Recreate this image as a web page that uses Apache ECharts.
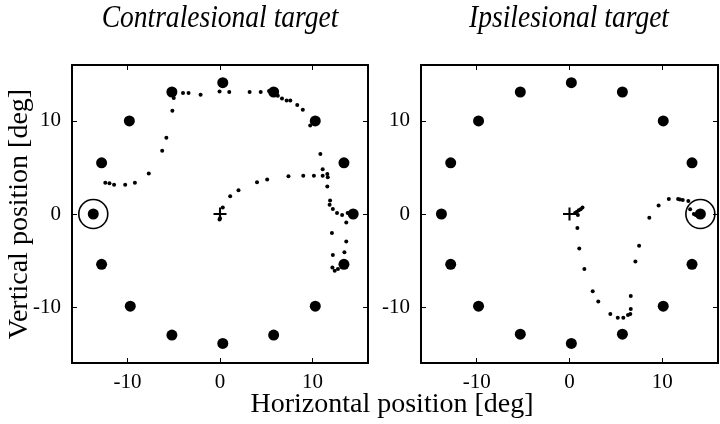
<!DOCTYPE html>
<html>
<head>
<meta charset="utf-8">
<script src="https://cdn.jsdelivr.net/npm/echarts@6/dist/echarts.min.js"></script>
<style>html,body{margin:0;padding:0;background:#fff}#c{width:720px;height:424px}</style>
</head>
<body>
<div id="c"></div>
<script>
var panelTitles = ['Contralesional target', 'Ipsilesional target'];
var xTitle = 'Horizontal position [deg]';
var yTitle = 'Vertical position [deg]';
var tickValues = [-10, 0, 10];
var axisMin = -16, axisMax = 16;

var fixation = [[0, 0]];

var contraTargets = [[-13.7,0],[-12.8,5.5],[-9.8,10],[-5.2,13.1],[0.3,14.1],[5.8,13.1],[10.3,10],[13.4,5.5],[14.4,0],[13.4,-5.4],[10.3,-9.9],[5.8,-13],[0.3,-13.9],[-5.2,-13],[-9.7,-9.9],[-12.8,-5.4]];
var contraCircled = [[-13.7,0]];
var contraTrace = [[-0.05,-0.6],[0,-0.45],[0.3,0.7],[1.1,1.9],[2.0,2.55],[4.0,3.4],[5.1,3.7],[7.4,4.05],[9.0,4.1],[10.15,4.1],[11.1,4.1],[11.65,3.95],[11.6,4.3],[11.1,4.8],[10.85,6.45],[11.6,2.95],[11.9,1.45],[11.85,1.0],[12.2,0.55],[12.65,0.1],[13.2,-0.1],[13.65,-0.9],[13.8,0.1],
[10.25,9.7],[9.75,9.5],[8.95,11.2],[8.35,11.7],[7.6,12.2],[7.2,12.2],[6.7,12.4],[6.25,12.7],[5.8,12.9],[5.3,13.2],[4.4,13.1],[3.2,13.1],[1.0,13.1],[-0.05,13.15],[-2.1,12.8],[-3.4,13.0],[-4.0,13.0],[-4.9,13.0],[-5.0,12.45],[-5.15,11.1],[-5.8,8.2],[-6.25,6.8],[-7.7,4.35],[-9.2,3.35],[-10.25,3.15],[-11.45,3.15],[-11.95,3.3],[-12.4,3.35],
[12.1,-2.05],[13.65,-2.95],[12.2,-4.4],[13.45,-4.1],[12.15,-5.75],[12.4,-6.1],[12.75,-5.9]];

var ipsiTargets = [[-13.8,0],[-12.8,5.5],[-9.8,10],[-5.3,13.1],[0.2,14.1],[5.7,13.1],[10.1,10],[13.2,5.5],[14.1,0],[13.2,-5.4],[10.1,-9.9],[5.7,-12.9],[0.2,-13.9],[-5.3,-12.9],[-9.8,-9.9],[-12.8,-5.4]];
var ipsiCircled = [[14.1,0]];
var ipsiTrace = [[0.6,0.1],[0.8,0.25],[1.0,0.4],[1.2,0.5],[1.4,0.7],[0.9,-0.1],[0.85,-1.5],[1.05,-3.7],[1.6,-5.9],[2.5,-8.3],[3.1,-9.4],[4.4,-10.75],[5.2,-11.15],[5.8,-11.15],[6.3,-10.85],[6.55,-10.75],[6.6,-10.2],[6.6,-8.8],[7.1,-5.1],[7.5,-3.4],[8.6,-0.4],[9.6,0.9],[10.7,1.6],[11.7,1.6],[11.9,1.55],[12.2,1.5],[12.8,1.4],[13.0,0.5],[13.4,0],[13.6,-0.1],[13.8,0.1],[14.0,0],[14.2,0.2],[14.4,0.1],[13.9,-0.2]];

var FONT = '"Liberation Serif", "Times New Roman", serif';
var grids = [
  {left: 72, top: 65, width: 296, height: 298},
  {left: 421, top: 65, width: 297, height: 298}
];

var xAxes = [], yAxes = [];
grids.forEach(function (g, i) {
  var base = {
    type: 'value', min: axisMin, max: axisMax, gridIndex: i,
    splitLine: {show: false},
    axisLine: {show: true, onZero: false, lineStyle: {color: '#000', width: 2}},
    axisTick: {show: true, inside: true, length: 5, customValues: tickValues, lineStyle: {color: '#000', width: 1}},
    axisLabel: {show: true, customValues: tickValues, color: '#000', fontFamily: FONT, fontSize: 21, margin: 9}
  };
  xAxes.push(Object.assign({}, base, {position: 'bottom'}));
  xAxes.push(Object.assign({}, base, {position: 'top', axisLabel: {show: false}}));
  yAxes.push(Object.assign({}, base, {position: 'left', axisLabel: {show: true, customValues: tickValues, color: '#000', fontFamily: FONT, fontSize: 21, margin: 11}}));
  yAxes.push(Object.assign({}, base, {position: 'right', axisLabel: {show: false}}));
});

var plusPath = 'path://M4.2,0H5.8V4.2H10V5.8H5.8V10H4.2V5.8H0V4.2H4.2Z';
var solid = {color: '#000', opacity: 1};

function panelSeries(i, targets, trace, circled) {
  var xi = i * 2, yi = i * 2;
  return [
    {type: 'scatter', xAxisIndex: xi, yAxisIndex: yi, data: targets, symbol: 'circle', symbolSize: 11, itemStyle: solid, silent: true, z: 3},
    {type: 'scatter', xAxisIndex: xi, yAxisIndex: yi, data: trace, symbol: 'circle', symbolSize: 4, itemStyle: solid, silent: true, z: 4},
    {type: 'scatter', xAxisIndex: xi, yAxisIndex: yi, data: circled, symbol: 'circle', symbolSize: 29, itemStyle: {color: 'rgba(0,0,0,0)', borderColor: '#000', borderWidth: 1.6, opacity: 1}, silent: true, z: 5},
    {type: 'scatter', xAxisIndex: xi, yAxisIndex: yi, data: fixation, symbol: plusPath, symbolSize: 13, itemStyle: solid, silent: true, z: 6}
  ];
}

var series = [].concat(
  panelSeries(0, contraTargets, contraTrace, contraCircled),
  panelSeries(1, ipsiTargets, ipsiTrace, ipsiCircled)
);

var chart = echarts.init(document.getElementById('c'), null, {renderer: 'canvas'});
chart.setOption({
  animation: false,
  backgroundColor: '#fff',
  grid: grids,
  xAxis: xAxes,
  yAxis: yAxes,
  series: series,
  graphic: [
    {type: 'text', x: 220, y: 19, scaleX: 0.86, style: {text: panelTitles[0], font: 'italic 32px ' + FONT, fill: '#000', textAlign: 'center', textVerticalAlign: 'middle'}},
    {type: 'text', x: 569, y: 19, scaleX: 0.86, style: {text: panelTitles[1], font: 'italic 32px ' + FONT, fill: '#000', textAlign: 'center', textVerticalAlign: 'middle'}},
    {type: 'text', x: 392, y: 405, style: {text: xTitle, font: '28px ' + FONT, fill: '#000', textAlign: 'center', textVerticalAlign: 'middle'}},
    {type: 'text', x: 20, y: 214, rotation: Math.PI / 2, style: {text: yTitle, font: '28px ' + FONT, fill: '#000', textAlign: 'center', textVerticalAlign: 'middle'}}
  ]
});
</script>
</body>
</html>
